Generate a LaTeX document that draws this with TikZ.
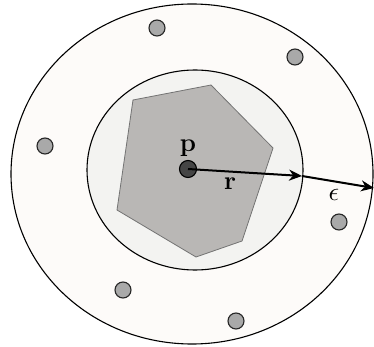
\documentclass[tikz,border=0pt]{standalone}
\usepackage{graphicx}
\usepackage{xcolor}
\usetikzlibrary{arrows.meta}

\definecolor{outerfill}{HTML}{FDFBF9}
\definecolor{innerfill}{HTML}{F3F3F1}
\definecolor{polyfill}{HTML}{B9B7B5}
\definecolor{ptfill}{HTML}{A9A9A9}
\definecolor{centerfill}{HTML}{454545}

\begin{document}
\begin{tikzpicture}[
  x=1pt, y=-1pt,
  >={Stealth[length=13pt,width=11pt]},
  line width=1.1pt,
  pt/.style={circle, draw=black!85, fill=ptfill, minimum size=16pt, inner sep=0pt},
  ctr/.style={circle, draw=black, fill=centerfill, minimum size=17pt, inner sep=0pt},
  lbl/.style={font=\fontsize{26}{30}\selectfont\bfseries},
  vec/.style={->, line width=2pt}
]
\useasboundingbox (0,0) rectangle (374,347);
\draw[fill=outerfill] (192,174) ellipse [x radius=181, y radius=170];
\draw[fill=innerfill] (195,170) ellipse [x radius=108, y radius=100];
\draw[draw=black!55, line width=0.8pt, fill=polyfill]
  (133,100) -- (211,85) -- (273,148) -- (242,241) -- (196,257) -- (117,210) -- cycle;
\node[pt] (s1) at (157,28) {};
\node[pt] (s2) at (295,57) {};
\node[pt] (s3) at (45,146) {};
\node[pt] (s4) at (339,222) {};
\node[pt] (s5) at (123,290) {};
\node[pt] (s6) at (236,321) {};
\node[ctr] (p) at (188,169) {};
\coordinate (rend) at (302,176);
\coordinate (eend) at (374,188);
\node[lbl] (plabel) at (188,148) {p};
\node[lbl] (rlabel) at (230,184) {r};
\node (elabel) at (334,195) {\scalebox{2.6}{$\epsilon$}};
\draw[vec] (p.center) -- (rend);
\draw[vec] (rend) -- (eend);
\end{tikzpicture}
\end{document}
